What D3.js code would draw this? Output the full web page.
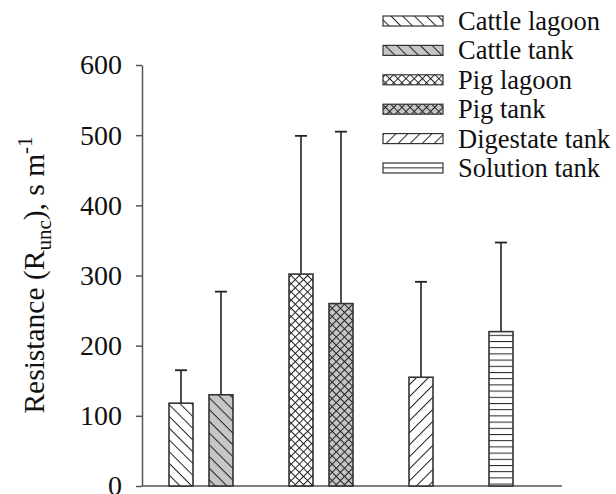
<!DOCTYPE html>
<html>
<head>
<meta charset="utf-8">
<script src="https://cdn.jsdelivr.net/npm/d3@7"></script>
<style>
  html, body { margin: 0; padding: 0; background: #fff; }
  svg { display: block; }
  text { font-family: "Liberation Serif", "Times New Roman", serif; fill: #111; }
</style>
</head>
<body>
<svg id="chart" width="616" height="494"></svg>
<script>
// Resistance per storage type
const series = ["Cattle lagoon", "Cattle tank", "Pig lagoon", "Pig tank", "Digestate tank", "Solution tank"];
const groups = ["cattle", "cattle", "pig", "pig", "digestate", "solution"];
const means  = [118, 130, 302, 260, 155, 220];
const upper  = [165, 277, 499, 505, 291, 347];   // mean + SD
const fills  = ["back", "back-grey", "cross", "cross-grey", "fwd", "horiz"];
const yTicks = [0, 100, 200, 300, 400, 500, 600];

const svg = d3.select("#chart");
const defs = svg.append("defs");

// hatch patterns
function linePattern(id, size, angle, bg, both) {
  const p = defs.append("pattern")
    .attr("id", id)
    .attr("patternUnits", "userSpaceOnUse")
    .attr("width", size).attr("height", size)
    .attr("patternTransform", `rotate(${angle})`);
  p.append("rect").attr("width", size).attr("height", size).attr("fill", bg);
  p.append("line").attr("x1", 0).attr("y1", 0.5).attr("x2", size).attr("y2", 0.5)
    .attr("stroke", "#222").attr("stroke-width", 1);
  if (both) {
    p.append("line").attr("x1", 0.5).attr("y1", 0).attr("x2", 0.5).attr("y2", size)
      .attr("stroke", "#222").attr("stroke-width", 1);
  }
}
const grey = "#c6c6c6";
linePattern("back", 8.3, 45, "#fff", false);
linePattern("back-grey", 8.3, 45, grey, false);
linePattern("cross", 5.8, 45, "#fff", true);
linePattern("cross-grey", 5.8, 45, grey, true);
linePattern("fwd", 8.5, -45, "#fff", false);
linePattern("horiz", 6.2, 0, "#fff", false);

// layout
const plot = { left: 142, right: 562, top: 65, bottom: 486 };

// slots with an empty spacer wherever the group changes
const slots = [];
series.forEach((s, i) => {
  if (i > 0 && groups[i] !== groups[i - 1]) slots.push("gap" + i);
  slots.push(s);
});

const x = d3.scaleBand()
  .domain(slots)
  .range([161, 521])
  .paddingInner(0.4)
  .paddingOuter(0.2);

const y = d3.scaleLinear().domain([0, 600]).range([plot.bottom, plot.top]);

// y axis
const yAxis = d3.axisLeft(y).tickValues(yTicks).tickSize(6).tickPadding(14).tickSizeOuter(0);
const gy = svg.append("g").attr("transform", `translate(${plot.left},0)`).call(yAxis);
gy.select(".domain").attr("stroke", "#555").attr("stroke-width", 1.5);
gy.selectAll(".tick line").attr("stroke", "#555").attr("stroke-width", 1.5);
gy.selectAll(".tick text")
  .style("font-family", '"Liberation Serif", serif')
  .style("font-size", "28px")
  .attr("fill", "#111");

// x baseline
svg.append("line")
  .attr("x1", plot.left).attr("x2", plot.right)
  .attr("y1", y(0)).attr("y2", y(0))
  .attr("stroke", "#555").attr("stroke-width", 1.5);

// error bars (upper only)
const data = series.map((s, i) => ({ s, mean: means[i], up: upper[i], fill: fills[i] }));
const eb = svg.append("g");
data.forEach(d => {
  const cx = x(d.s) + x.bandwidth() / 2;
  eb.append("line")
    .attr("x1", cx).attr("x2", cx)
    .attr("y1", y(d.mean)).attr("y2", y(d.up))
    .attr("stroke", "#222").attr("stroke-width", 1.6);
  eb.append("line")
    .attr("x1", cx - 6).attr("x2", cx + 6)
    .attr("y1", y(d.up)).attr("y2", y(d.up))
    .attr("stroke", "#222").attr("stroke-width", 1.8);
});

// bars
svg.append("g").selectAll("rect")
  .data(data)
  .join("rect")
  .attr("x", d => x(d.s))
  .attr("y", d => y(d.mean))
  .attr("width", x.bandwidth())
  .attr("height", d => y(0) - y(d.mean))
  .attr("fill", d => `url(#${d.fill})`)
  .attr("stroke", "#333")
  .attr("stroke-width", 1.6);

// legend
const legend = svg.append("g");
const lx = 383, ly0 = 21, lstep = 29.4;
data.forEach((d, i) => {
  const cy = ly0 + i * lstep;
  legend.append("rect")
    .attr("x", lx).attr("y", cy - 5)
    .attr("width", 60).attr("height", 10)
    .attr("fill", `url(#${d.fill})`)
    .attr("stroke", "#333").attr("stroke-width", 1.2);
  legend.append("text")
    .attr("x", 458).attr("y", cy)
    .attr("dy", "0.34em")
    .style("font-size", "26.5px")
    .text(d.s);
});

// y axis title
const title = svg.append("text")
  .attr("transform", `translate(44, 275) rotate(-90)`)
  .attr("text-anchor", "middle")
  .style("font-size", "29.5px");
title.append("tspan").text("Resistance (R");
title.append("tspan").attr("dy", 7).style("font-size", "21px").text("unc");
title.append("tspan").attr("dy", -7).text("), s m");
title.append("tspan").attr("dy", -12).style("font-size", "21px").text("-1");
</script>
</body>
</html>
